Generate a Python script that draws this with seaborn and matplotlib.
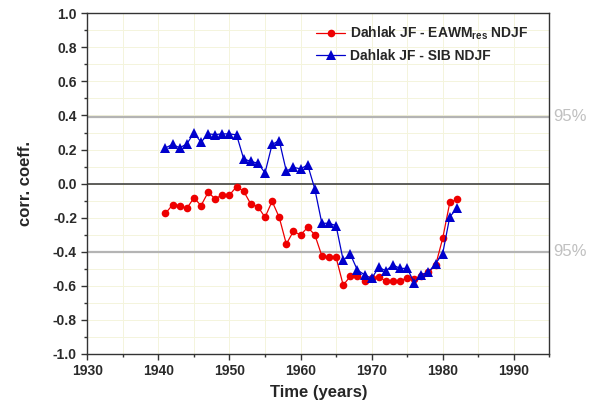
import numpy as np
import pandas as pd
import matplotlib
matplotlib.use("Agg")
import matplotlib.pyplot as plt
import seaborn as sns

years = list(range(1941, 1983))

eawm_res = [-0.175, -0.124, -0.129, -0.145, -0.084, -0.129, -0.051, -0.090, -0.065, -0.067,
            -0.018, -0.045, -0.120, -0.135, -0.198, -0.104, -0.198, -0.355, -0.280, -0.302,
            -0.257, -0.300, -0.424, -0.433, -0.433, -0.596, -0.545, -0.541, -0.570, -0.555,
            -0.551, -0.570, -0.570, -0.570, -0.555, -0.561, -0.541, -0.520, -0.480, -0.322,
            -0.111, -0.093]

sib = [0.210, 0.230, 0.210, 0.233, 0.298, 0.243, 0.292, 0.288, 0.292, 0.292,
       0.286, 0.145, 0.130, 0.120, 0.063, 0.230, 0.253, 0.073, 0.096, 0.086,
       0.110, -0.030, -0.233, -0.233, -0.247, -0.450, -0.414, -0.508, -0.535, -0.557,
       -0.492, -0.512, -0.478, -0.498, -0.498, -0.582, -0.535, -0.520, -0.470, -0.411,
       -0.195, -0.146]

label_red = r"Dahlak JF - EAWM$_{\mathregular{res}}$ NDJF"
label_blue = "Dahlak JF - SIB NDJF"
sig_upper = 0.394
sig_lower = -0.400
y_major = [-1.0, -0.8, -0.6, -0.4, -0.2, 0.0, 0.2, 0.4, 0.6, 0.8, 1.0]
y_minor = [-0.9, -0.7, -0.5, -0.3, -0.1, 0.1, 0.3, 0.5, 0.7, 0.9]
y_labels = ["-1.0", "-0.8", "-0.6", "-0.4", "-0.2", "0.0", "0.2", "0.4", "0.6", "0.8", "1.0"]

sns.set_theme(style="white")
plt.rcParams["font.family"] = ["Liberation Sans", "DejaVu Sans"]
plt.rcParams["font.weight"] = "bold"
plt.rcParams["axes.unicode_minus"] = False
plt.rcParams["mathtext.default"] = "regular"

fig = plt.figure(figsize=(5.9, 4.11), dpi=100)
ax = fig.add_axes([0.148, 0.139, 0.783, 0.8286])

# faint grid
for gx in range(1930, 1996, 5):
    ax.axvline(gx, color="#f4f4dc", lw=0.7, zorder=0)
for gy in y_major + y_minor:
    ax.axhline(gy, color="#f4f4dc", lw=0.7, zorder=0)

ax.axhline(0.0, color="#333333", lw=1.1, zorder=1)
ax.axhline(sig_upper, color="#b4b4b4", lw=1.6, zorder=1)
ax.axhline(sig_lower, color="#b4b4b4", lw=1.6, zorder=1)

df_red = pd.DataFrame({"year": years, "r": eawm_res})
df_blue = pd.DataFrame({"year": years, "r": sib})

sns.lineplot(data=df_red, x="year", y="r", ax=ax, color="#ee0000", marker="o",
             markersize=5.5, markeredgewidth=0, lw=0.9, label=label_red, zorder=3)
sns.lineplot(data=df_blue, x="year", y="r", ax=ax, color="#0000cc", marker="^",
             markersize=6.5, markeredgewidth=0, lw=0.9, label=label_blue, zorder=4)

ax.set_xlim(1930, 1995)
ax.set_ylim(-1.0, 1.0)
ax.set_xticks(range(1930, 1991, 10))
ax.set_xticks(range(1935, 1996, 10), minor=True)
ax.set_yticks(y_major)
ax.set_yticklabels(y_labels)
ax.set_yticks(y_minor, minor=True)
ax.tick_params(axis="both", which="major", direction="out", length=4, width=1,
               labelsize=10, color="#333333", bottom=True, left=True)
ax.tick_params(axis="both", which="minor", direction="out", length=2.5, width=1,
               color="#333333", bottom=True, left=True)
for lab in ax.get_xticklabels() + ax.get_yticklabels():
    lab.set_fontweight("bold")
    lab.set_color("#2a2a2a")

for sp in ax.spines.values():
    sp.set_color("#333333")
    sp.set_linewidth(1.0)

ax.set_xlabel("Time (years)", fontsize=12, fontweight="bold", labelpad=5)
ax.set_ylabel("corr. coeff.", fontsize=12, fontweight="bold", labelpad=14)

ax.text(1995.5, sig_upper, "95%", color="#c0c0c0", fontsize=12, va="center", ha="left",
        fontweight="normal", clip_on=False)
ax.text(1995.5, sig_lower, "95%", color="#c0c0c0", fontsize=12, va="center", ha="left",
        fontweight="normal", clip_on=False)

ax.legend(loc="upper left", bbox_to_anchor=(0.495, 0.966), frameon=False,
          handlelength=2.1, handletextpad=0.35, labelspacing=0.45,
          borderaxespad=0, borderpad=0, prop={"weight": "bold", "size": 10})

fig.savefig("out.png", dpi=100)
